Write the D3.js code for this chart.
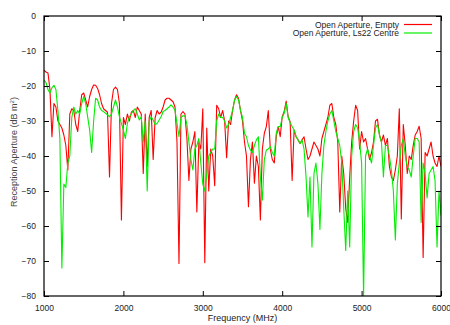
<!DOCTYPE html>
<html><head><meta charset="utf-8">
<script src="https://cdn.jsdelivr.net/npm/d3@7"></script>
<style>
body{margin:0;background:#fff;}
svg{display:block;font-family:"Liberation Sans",Arial,sans-serif;}
</style></head>
<body>
<svg id="chart" width="450" height="325"></svg>
<script>
// Frequencies (MHz)
const freq = [1000,1025,1050,1075,1100,1125,1150,1175,1200,1225,1250,1275,1300,1325,1350,1375,1400,1425,1450,1475,
1500,1525,1550,1575,1600,1625,1650,1675,1700,1725,1750,1775,1800,1825,1850,1875,1900,1925,1950,1975,
2000,2025,2050,2075,2100,2125,2150,2175,2200,2225,2250,2275,2300,2325,2350,2375,2400,2425,2450,2475,
2500,2525,2550,2575,2600,2625,2650,2675,2700,2725,2750,2775,2800,2825,2850,2875,2900,2925,2950,2975,
3000,3025,3050,3075,3100,3125,3150,3175,3200,3225,3250,3275,3300,3325,3350,3375,3400,3425,3450,3475,
3500,3525,3550,3575,3600,3625,3650,3675,3700,3725,3750,3775,3800,3825,3850,3875,3900,3925,3950,3975,
4000,4025,4050,4075,4100,4125,4150,4175,4200,4225,4250,4275,4300,4325,4350,4375,4400,4425,4450,4475,
4500,4525,4550,4575,4600,4625,4650,4675,4700,4725,4750,4775,4800,4825,4850,4875,4900,4925,4950,4975,
5000,5025,5050,5075,5100,5125,5150,5175,5200,5225,5250,5275,5300,5325,5350,5375,5400,5425,5450,5475,
5500,5525,5550,5575,5600,5625,5650,5675,5700,5725,5750,5775,5800,5825,5850,5875,5900,5925,5950,5975,6000];

// Open Aperture, Empty (dB m^2)
const empty = [-15.5,-16,-16.3,-21,-34.5,-25,-26,-30,-31,-32,-34,-37,-44,-28,-26.5,-27,-31,-33,-27,-22.5,
-22,-24,-26,-23,-21,-19.7,-19.8,-20.7,-22.5,-25,-26.5,-27,-27.5,-46,-25,-21,-20.3,-21,-25,-58.3,
-29,-31,-28,-30,-27.5,-27,-29,-26,-27,-28,-45,-28,-43,-29,-27,-41,-29,-27,-28,-27.5,
-26,-24,-23.5,-23.5,-24,-24.5,-26,-36,-70.7,-28,-27.3,-28,-35,-47,-38,-36,-33,-56,-36,-38,
-26.5,-70.5,-32,-50,-38,-40,-48.5,-25.5,-26.5,-29,-27,-30,-40.5,-30,-31,-27,-24,-22.5,-23.5,-27,
-30,-36,-40,-54.5,-41,-36,-47.8,-40,-43,-58.3,-38,-33.5,-31.6,-27,-38,-41,-42,-34.5,-31.6,-34.5,
-28.8,-27.3,-24.3,-28.8,-30.2,-47,-32.6,-34.5,-35.4,-36.4,-35.4,-34.5,-38,-41,-40,-38,-36,-37,-38,-40,
-35,-33,-31,-29,-25.5,-25,-29,-31,-36,-56,-40,-45,-55,-59,-46,-36,-30,-25.5,-27,-38,
-33,-36,-35,-38,-41,-39,-36,-30,-29.5,-34,-36,-34,-37,-35,-43,-46,-47,-44,-40,-26.5,
-58,-31,-37,-45,-40,-41,-37,-34,-33,-31.5,-35,-69,-39,-40,-38,-36,-40,-42,-43,-40,-43];

// Open Aperture, Ls22 Centre (dB m^2)
const centre = [-18.3,-19,-21,-22,-20.5,-19.8,-21,-27,-35,-72,-48,-49,-42,-40,-29,-26,-28,-27,-28,-25,
-23,-25,-28.8,-32.6,-39,-30,-23.5,-24,-26,-27,-27.3,-27.8,-28.2,-28.8,-28,-26,-24,-26,-28.8,-30.7,
-32.6,-35,-30.7,-28.8,-28,-27,-26.5,-28,-29.7,-28.8,-36,-30,-50,-30,-28.8,-29.7,-31,-30.7,-29.7,-28.8,
-27.3,-27,-26.5,-26,-25.4,-26,-27,-30.7,-34.5,-29,-28.5,-28.5,-31,-36,-41,-44,-38,-37,-35,-42,
-48,-50,-45,-40,-39,-38,-38,-30,-28,-29,-29,-30,-32,-31,-29,-27,-24,-23,-24,-27,
-29,-33.5,-34.5,-37,-38.3,-39,-37,-35.4,-34.5,-46,-52.6,-41,-38.3,-38,-37.3,-39,-40,-33.5,-31.6,-31.6,
-29,-27.8,-25,-29,-30.5,-31.6,-32.6,-34.5,-35.4,-36.4,-35.4,-38,-45.9,-57.4,-46,-66,-45,-42,-48,-61,
-45,-37,-33,-30,-28,-27,-30,-33,-35,-37,-42,-55,-67,-50,-66,-40,-33,-31,-32,-36,
-42,-80,-40,-38,-40,-42,-37,-32,-31,-34,-36,-46,-37,-37,-40,-44,-50,-64,-48,-42,
-37,-35,-40,-43,-44,-46,-40,-35,-35,-36,-59,-42,-45,-52,-45,-44,-43,-47,-66,-50,-57];

const seriesNames = ["Open Aperture, Empty", "Open Aperture, Ls22 Centre"];
const seriesColors = ["#ff0000", "#00ee00"];
const xTicks = [1000,2000,3000,4000,5000,6000];
const yTicks = [0,-10,-20,-30,-40,-50,-60,-70,-80];

const svg = d3.select("#chart");
const L = 44, R = 441, T = 16, B = 296;
const x = d3.scaleLinear().domain([1000,6000]).range([L,R]);
const y = d3.scaleLinear().domain([-80,0]).range([B,T]);

const clip = svg.append("defs").append("clipPath").attr("id","pc")
  .append("rect").attr("x",L).attr("y",T).attr("width",R-L).attr("height",B-T);

const series = [empty, centre];
const line = d3.line().x((d,i)=>x(freq[i])).y(d=>y(d));
const g = svg.append("g").attr("clip-path","url(#pc)");
series.forEach((s,k)=>{
  g.append("path").datum(s).attr("d",line)
   .attr("fill","none").attr("stroke",seriesColors[k])
   .attr("stroke-width",1.1).attr("stroke-linejoin","round");
});

// axes (inward ticks, mirrored)
const fmt = d3.format("d");
const axL = d3.axisLeft(y).tickValues(yTicks).tickSize(-5).tickPadding(8).tickFormat(fmt);
const axR = d3.axisRight(y).tickValues(yTicks).tickSize(-5).tickFormat("");
const axB = d3.axisBottom(x).tickValues(xTicks).tickSize(-5).tickPadding(9).tickFormat(fmt);
const axT = d3.axisTop(x).tickValues(xTicks).tickSize(-5).tickFormat("");
function style(sel){
  sel.select(".domain").remove();
  sel.selectAll("line").attr("stroke","#000").attr("stroke-width",1);
  sel.selectAll("text").attr("font-size",8.5).attr("fill","#222")
    .attr("font-family","'Liberation Sans',Arial,sans-serif");
}
svg.append("g").attr("transform",`translate(${L},0)`).call(axL).call(style);
svg.append("g").attr("transform",`translate(${R},0)`).call(axR).call(style);
svg.append("g").attr("transform",`translate(0,${B})`).call(axB).call(style);
svg.append("g").attr("transform",`translate(0,${T})`).call(axT).call(style);

svg.append("rect").attr("x",L).attr("y",T).attr("width",R-L).attr("height",B-T)
  .attr("fill","none").attr("stroke","#000").attr("stroke-width",1.2);

// axis labels
svg.append("text").attr("x",(L+R)/2).attr("y",321).attr("text-anchor","middle")
  .attr("font-size",9).attr("fill","#222").text("Frequency (MHz)");
const yl = svg.append("text").attr("transform","translate(17,152) rotate(-90)")
  .attr("text-anchor","middle").attr("font-size",9).attr("fill","#444");
yl.append("tspan").text("Reception Aperture (dB m");
yl.append("tspan").attr("font-size",6).attr("dy",-3).text("2");
yl.append("tspan").attr("dy",3).text(")");

// legend
seriesNames.forEach((n,k)=>{
  const yy = 24.5 + k*8.5;
  svg.append("text").attr("x",399).attr("y",yy+3).attr("text-anchor","end")
    .attr("font-size",8.5).attr("fill","#222").text(n);
  svg.append("line").attr("x1",404).attr("x2",432).attr("y1",yy).attr("y2",yy)
    .attr("stroke",seriesColors[k]).attr("stroke-width",1.2);
});
</script>
</body></html>
